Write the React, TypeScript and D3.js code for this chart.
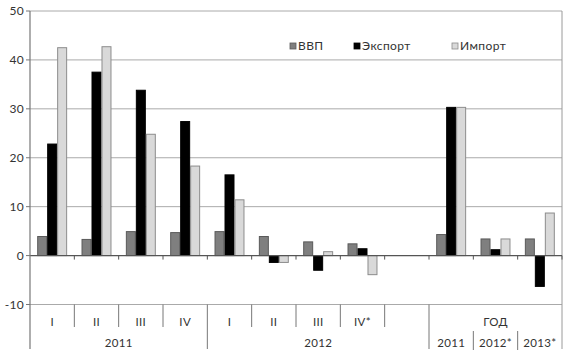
import * as d3 from "d3";

// quarterly and annual growth, % y/y
const slots = ["q1-11", "q2-11", "q3-11", "q4-11", "q1-12", "q2-12", "q3-12", "q4-12", "gap", "y2011", "y2012", "y2013"];
const slotLabels = ["I", "II", "III", "IV", "I", "II", "III", "IV*", "", "", "", ""];
const gdp = [3.9, 3.3, 4.9, 4.7, 4.9, 3.9, 2.8, 2.4, null, 4.3, 3.4, 3.4];
const exports = [22.8, 37.5, 33.8, 27.4, 16.5, -1.4, -3.0, 1.4, null, 30.3, 1.2, -6.3];
const imports = [42.5, 42.7, 24.8, 18.3, 11.4, -1.4, 0.8, -3.9, null, 30.3, 3.4, 8.7];
const seriesNames = ["ВВП", "Экспорт", "Импорт"];
const groups = [
  { label: "2011", from: 0, to: 4 },
  { label: "2012", from: 4, to: 9 },
];
const yearGroup = { label: "ГОД", from: 9, to: 12, subLabels: ["2011", "2012*", "2013*"] };
const yTicks = [-10, 0, 10, 20, 30, 40, 50];

const W = 567;
const H = 364;
const left = 30;
const right = 562;
const top = 11;
const bottom = 304.5;

const fills = ["#7f7f7f", "#000000", "#d9d9d9"];
const strokes = ["#5a5a5a", "#000000", "#8c8c8c"];
const font = "Lato, 'Open Sans', sans-serif";

export default function App() {
  const x = d3.scaleBand<string>().domain(slots).range([left, right]).padding(0);
  const step = x.step();
  const inner = d3
    .scaleBand<string>()
    .domain(seriesNames)
    .range([0, step])
    .paddingInner(0)
    .paddingOuter(0.72);
  const y = d3.scaleLinear().domain([-10, 50]).range([bottom, top]);
  const series = [gdp, exports, imports];
  const edge = (i: number) => left + i * step;

  return (
    <svg
      width={W}
      height={H}
      style={{ position: "absolute", left: 0, top: 0, background: "#fff" }}
      fontFamily={font}
    >
      {/* grid */}
      {yTicks
        .filter((t) => t !== 0)
        .map((t) => (
          <line key={t} x1={left} x2={right} y1={y(t)} y2={y(t)} stroke="#aaaaaa" strokeWidth={1} />
        ))}
      <line x1={right} x2={right} y1={top} y2={349} stroke="#9a9a9a" />
      {yTicks.map((t) => (
        <g key={"t" + t}>
          <line x1={left - 4} x2={left} y1={y(t)} y2={y(t)} stroke="#777" />
          <text x={left - 6} y={y(t)} dy="0.35em" textAnchor="end" fontSize={12} fill="#333" letterSpacing={0.3}>
            {t}
          </text>
        </g>
      ))}

      {/* legend */}
      <g fontSize={12} fill="#333" letterSpacing={0.4}>
        {[
          { x: 290, label: seriesNames[0] },
          { x: 354, label: seriesNames[1] },
          { x: 452, label: seriesNames[2] },
        ].map((l, i) => (
          <g key={l.label}>
            <rect x={l.x} y={43} width={6} height={6} fill={fills[i]} stroke={strokes[i]} strokeWidth={0.8} />
            <text x={l.x + 8} y={46} dy="0.35em">
              {l.label}
            </text>
          </g>
        ))}
      </g>

      {/* bars */}
      {slots.map((s, i) =>
        series.map((vals, k) => {
          const v = vals[i];
          if (v == null) return null;
          const x0 = (x(s) ?? 0) + (inner(seriesNames[k]) ?? 0);
          const y0 = Math.min(y(v), y(0));
          const h = Math.abs(y(v) - y(0));
          return (
            <rect
              key={s + k}
              x={x0 + 0.5}
              y={y0}
              width={inner.bandwidth() - 1}
              height={h}
              fill={fills[k]}
              stroke={strokes[k]}
              strokeWidth={1}
            />
          );
        })
      )}

      {/* zero axis */}
      <line x1={left} x2={right} y1={y(0)} y2={y(0)} stroke="#555" strokeWidth={1.2} />
      {slots.map((s, i) => (
        <line key={"zt" + s} x1={edge(i + 1)} x2={edge(i + 1)} y1={y(0)} y2={y(0) + 4} stroke="#555" />
      ))}
      <line x1={left} x2={left} y1={top} y2={349} stroke="#777" strokeWidth={1.2} />

      {/* category labels */}
      <g fill="#333" fontSize={11.5} letterSpacing={0.3}>
        {slots.map((s, i) => (
          <text key={"l" + s} x={(x(s) ?? 0) + step / 2} y={322} dy="0.35em" textAnchor="middle">
            {slotLabels[i]}
          </text>
        ))}
        {slots.map((s, i) => {
          if (i === 0) return null;
          const isGroupEdge = [4, 9].includes(i);
          const inYear = i > 9;
          if (inYear)
            return <line key={"s" + s} x1={edge(i)} x2={edge(i)} y1={331} y2={350} stroke="#777" />;
          return (
            <line
              key={"s" + s}
              x1={edge(i)}
              x2={edge(i)}
              y1={bottom}
              y2={isGroupEdge ? 349 : 327}
              stroke="#777"
            />
          );
        })}
        {groups.map((g) => (
          <text key={g.label} x={(edge(g.from) + edge(g.to)) / 2} y={343} dy="0.35em" textAnchor="middle">
            {g.label}
          </text>
        ))}
        <text x={(edge(yearGroup.from) + edge(yearGroup.to)) / 2} y={322} dy="0.35em" textAnchor="middle">
          {yearGroup.label}
        </text>
        {yearGroup.subLabels.map((lab, j) => (
          <text
            key={lab}
            x={edge(yearGroup.from + j) + step / 2}
            y={343}
            dy="0.35em"
            textAnchor="middle"
          >
            {lab}
          </text>
        ))}
      </g>
    </svg>
  );
}
